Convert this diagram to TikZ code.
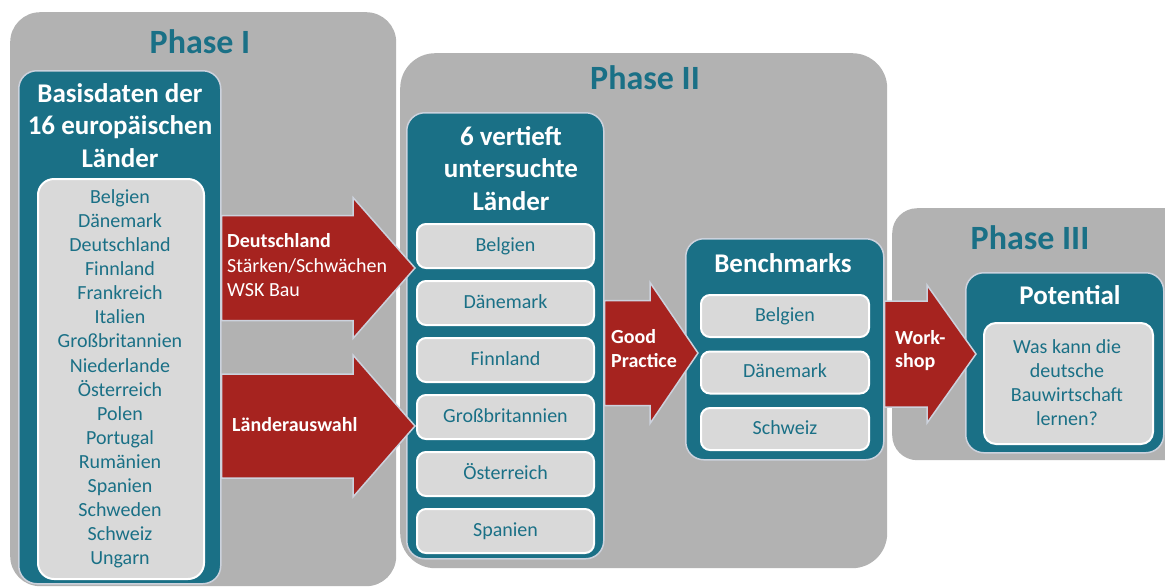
\documentclass[tikz,border=0pt]{standalone}
\usepackage{fontspec}
\setmainfont{Carlito}
\usetikzlibrary{positioning, calc}

\definecolor{phasegray}{HTML}{B2B2B2}
\definecolor{tealblue}{HTML}{1A7086}
\definecolor{itemgray}{HTML}{D9D9D9}
\definecolor{arrowred}{HTML}{A6231F}
\definecolor{rimgray}{HTML}{CCD2DD}

% block arrow: start node, tip, half body, half head, head length
\newcommand{\blockarrow}[5]{%
  \path (#1 |- #2) coordinate (arrowbase);
  \draw[bigarrow] ($(arrowbase)+(0,-#3)$) -- ($(#2)+(-#5,-#3)$) -- ($(#2)+(-#5,-#4)$)
    -- (#2) -- ($(#2)+(-#5,#4)$) -- ($(#2)+(-#5,#3)$) -- ($(arrowbase)+(0,#3)$) -- cycle;}

\begin{document}
\begin{tikzpicture}[x=1pt, y=-1pt,
    phase/.style={fill=phasegray, rounded corners=30pt, anchor=north west, inner sep=0pt},
    group/.style={fill=tealblue, draw=rimgray, line width=1.5pt, rounded corners=18pt, anchor=north west, inner sep=0pt},
    listbox/.style={fill=itemgray, draw=white, line width=2pt, rounded corners=16pt, anchor=north west, inner sep=0pt},
    item/.style={fill=itemgray, draw=white, line width=2pt, rounded corners=9pt, minimum width=177pt, minimum height=44pt,
        inner sep=0pt, outer sep=0pt, text height=15pt, text depth=5pt, font=\fontsize{20}{24}\selectfont, text=tealblue},
    phasetitle/.style={font=\fontsize{34}{40}\selectfont\bfseries, text=tealblue, anchor=base, inner sep=0pt},
    grouptitle/.style={font=\fontsize{27}{32.5}\selectfont\bfseries, text=white, align=center, anchor=north, inner sep=0pt},
    listtext/.style={font=\fontsize{20}{24}\selectfont, text=tealblue, anchor=base, inner sep=0pt},
    arrowtext/.style={font=\fontsize{20}{24}\selectfont, text=white, anchor=base west, inner sep=0pt},
    arrowbold/.style={arrowtext, font=\fontsize{20}{24}\selectfont\bfseries},
    bigarrow/.style={fill=arrowred, draw=rimgray, line width=1.5pt, line join=miter}
  ]
    \useasboundingbox (0,0) rectangle (1165,587);

    % Phases
    \node[phase, minimum width=386pt, minimum height=574pt] (phaseI) at (10,12) {};
    \node[phase, minimum width=487pt, minimum height=515pt, rounded corners=35pt] (phaseII) at (400,53) {};
    \node[phase, minimum width=300pt, minimum height=252pt, rounded corners=25pt] (phaseIII) at (892,208) {};
    \node[phasetitle] (titleI) at (200,53) {Phase I};
    \node[phasetitle] (titleII) at (645,89) {Phase II};
    \node[phasetitle] (titleIII) at (1030,249) {Phase III};

    % Groups
    \node[group, minimum width=202pt, minimum height=513pt] (basis) at (18,70) {};
    \node[group, minimum width=197pt, minimum height=446pt] (vertieft) at (406,112) {};
    \node[group, minimum width=198pt, minimum height=221pt] (bench) at (685,238) {};
    \node[group, minimum width=198pt, minimum height=180pt] (potential) at (965,272) {};
    \node[grouptitle] (basistitle) at (120,83) {Basisdaten der\\16 europäischen\\Länder};
    \node[grouptitle] (vertiefttitle) at (511,126) {6 vertieft\\untersuchte\\Länder};
    \node[grouptitle, anchor=base] (benchtitle) at (783,272) {Benchmarks};
    \node[grouptitle, anchor=base] (potentialtitle) at (1070,304) {Potential};

    % Basisdaten list
    \node[listbox, minimum width=166pt, minimum height=400pt] (basislist) at (37,178) {};
    \foreach \land [count=\i from 0] in {Belgien, Dänemark, Deutschland, Finnland, Frankreich, Italien,
        Großbritannien, Niederlande, Österreich, Polen, Portugal, Rumänien, Spanien, Schweden, Schweiz, Ungarn}
        \node[listtext] (land\i) at (120,203.3+24.1*\i) {\land};

    % Vertieft untersuchte Laender
    \node[item] (v1) at (505.5,246) {Belgien};
    \node[item, below=13pt of v1] (v2) {Dänemark};
    \node[item, below=13pt of v2] (v3) {Finnland};
    \node[item, below=13pt of v3] (v4) {Großbritannien};
    \node[item, below=13pt of v4] (v5) {Österreich};
    \node[item, below=13pt of v5] (v6) {Spanien};

    % Benchmarks
    \node[item, minimum width=168pt, minimum height=42pt] (b1) at (785,316) {Belgien};
    \node[item, minimum width=168pt, minimum height=42pt, below=14.5pt of b1] (b2) {Dänemark};
    \node[item, minimum width=168pt, minimum height=42pt, below=14.5pt of b2] (b3) {Schweiz};

    % Potential
    \node[listbox, minimum width=169pt, minimum height=121pt, rounded corners=12pt] (potbox) at (983,322) {};
    \node[listtext, align=center, anchor=north] (potq) at (1067,339.5) {Was kann die\\deutsche\\Bauwirtschaft\\lernen?};

    % Arrows
    \coordinate (tip1) at (415,268);
    \coordinate (tip2) at (415,426);
    \coordinate (tip3) at (698,353);
    \coordinate (tip4) at (976,354);
    \blockarrow{basis.east}{tip1}{52.5}{70.5}{62}
    \blockarrow{basis.east}{tip2}{52}{71}{62}
    \blockarrow{vertieft.east}{tip3}{52.5}{70.5}{48}
    \blockarrow{bench.east}{tip4}{53}{69}{49}

    \node[arrowbold] (deutschland) at (227,247.5) {Deutschland};
    \node[arrowtext] (staerken) at (227,272) {Stärken/Schwächen};
    \node[arrowtext] (wsk) at (227,296.5) {WSK Bau};
    \node[arrowbold] (auswahl) at (232,431.5) {Länderauswahl};
    \node[arrowbold] (good) at (611,343.3) {Good};
    \node[arrowbold] (practice) at (611,367.7) {Practice};
    \node[arrowbold] (work) at (895,344) {Work-};
    \node[arrowbold] (shop) at (895,367) {shop};

\end{tikzpicture}
\end{document}
